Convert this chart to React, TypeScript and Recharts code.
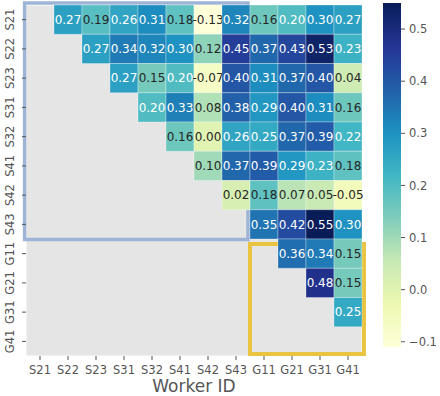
import React from 'react';
import {
  ScatterChart,
  ComposedChart,
  Scatter,
  XAxis,
  YAxis,
  CartesianGrid,
  ReferenceArea,
} from 'recharts';

// worker ids, same order on both axes
const workers = ['S21', 'S22', 'S23', 'S31', 'S32', 'S41', 'S42', 'S43', 'G11', 'G21', 'G31', 'G41'];

// upper triangle of the correlation matrix, one row per worker (null = masked)
const rowS21 = [null, 0.27, 0.19, 0.26, 0.31, 0.18, -0.13, 0.32, 0.16, 0.2, 0.3, 0.27];
const rowS22 = [null, null, 0.27, 0.34, 0.32, 0.3, 0.12, 0.45, 0.37, 0.43, 0.53, 0.23];
const rowS23 = [null, null, null, 0.27, 0.15, 0.2, -0.07, 0.4, 0.31, 0.37, 0.4, 0.04];
const rowS31 = [null, null, null, null, 0.2, 0.33, 0.08, 0.38, 0.29, 0.4, 0.31, 0.16];
const rowS32 = [null, null, null, null, null, 0.16, 0.0, 0.26, 0.25, 0.37, 0.39, 0.22];
const rowS41 = [null, null, null, null, null, null, 0.1, 0.37, 0.39, 0.29, 0.23, 0.18];
const rowS42 = [null, null, null, null, null, null, null, 0.02, 0.18, 0.07, 0.05, -0.05];
const rowS43 = [null, null, null, null, null, null, null, null, 0.35, 0.42, 0.55, 0.3];
const rowG11 = [null, null, null, null, null, null, null, null, null, 0.36, 0.34, 0.15];
const rowG21 = [null, null, null, null, null, null, null, null, null, null, 0.48, 0.15];
const rowG31 = [null, null, null, null, null, null, null, null, null, null, null, 0.25];
const rowG41 = [null, null, null, null, null, null, null, null, null, null, null, null];

const colorbarTicks = [-0.1, 0.0, 0.1, 0.2, 0.3, 0.4, 0.5];

const matrix = [rowS21, rowS22, rowS23, rowS31, rowS32, rowS41, rowS42, rowS43, rowG11, rowG21, rowG31, rowG41];

const VMIN = -0.11;
const VMAX = 0.55;

// matplotlib YlGnBu
const YLGNBU = ['#ffffd9', '#edf8b1', '#c7e9b4', '#7fcdbb', '#41b6c4', '#1d91c0', '#225ea8', '#253494', '#081d58'];

function hexToRgb(h: string) {
  const n = parseInt(h.slice(1), 16);
  return [(n >> 16) & 255, (n >> 8) & 255, n & 255];
}

function cmap(v: number) {
  let t = (v - VMIN) / (VMAX - VMIN);
  t = Math.max(0, Math.min(1, t));
  const pos = t * (YLGNBU.length - 1);
  const i = Math.min(Math.floor(pos), YLGNBU.length - 2);
  const f = pos - i;
  const a = hexToRgb(YLGNBU[i]);
  const b = hexToRgb(YLGNBU[i + 1]);
  const c = a.map((x, k) => Math.round(x + (b[k] - x) * f));
  return `rgb(${c[0]},${c[1]},${c[2]})`;
}

const cells = matrix.flatMap((row, r) =>
  row
    .map((v, c) => ({ col: c, row: r, v }))
    .filter((d) => d.v !== null)
);

const idx = workers.map((_, i) => i);
const edges = [...idx.map((i) => i - 0.5), workers.length - 0.5];

// colorbar: two points spanning the value range
const cbarData = [
  { x: 0, y: VMIN },
  { x: 1, y: VMAX },
];

const W = 370;
const H = 396;
const M = { top: 5, right: 8, bottom: 0, left: 0 };
const Y_W = 26;
const X_H = 40;
const cellW = (W - M.left - M.right - Y_W) / workers.length;
const cellH = (H - M.top - M.bottom - X_H) / workers.length;

const FONT = '"DejaVu Sans", sans-serif';
const GREY = '#555555';

function CellShape(props: any) {
  const { cx, cy, payload } = props;
  const v = payload.v as number;
  return (
    <g>
      <rect
        x={cx - cellW / 2}
        y={cy - cellH / 2}
        width={cellW}
        height={cellH}
        fill={cmap(v)}
        stroke="rgba(255,255,255,0.3)"
        strokeWidth={1}
      />
      <text
        x={cx}
        y={cy}
        dy="0.36em"
        textAnchor="middle"
        fontSize={12}
        fontFamily={FONT}
        fill={v >= 0.195 ? '#ffffff' : '#262626'}
      >
        {v.toFixed(2)}
      </text>
    </g>
  );
}

function YTick(props: any) {
  const { x, y, payload } = props;
  const bx = x - 6;
  return (
    <text
      x={bx}
      y={y}
      transform={`rotate(-90, ${bx}, ${y})`}
      textAnchor="middle"
      fontSize={11.5}
      fontFamily={FONT}
      fill={GREY}
    >
      {workers[payload.value]}
    </text>
  );
}

export default function App() {
  return (
    <div style={{ position: 'absolute', left: 0, top: 0, width: 440, height: 396, background: '#fff' }}>
      <svg width={0} height={0} style={{ position: 'absolute' }}>
        <defs>
          <linearGradient id="ylgnbu" x1="0" y1="1" x2="0" y2="0">
            {YLGNBU.map((c, i) => (
              <stop key={c} offset={`${(i / (YLGNBU.length - 1)) * 100}%`} stopColor={c} />
            ))}
          </linearGradient>
        </defs>
      </svg>
      <div style={{ position: 'absolute', left: 0, top: 0 }}>
        <ScatterChart width={W} height={H} margin={M}>
          <CartesianGrid xAxisId="edge" yAxisId="edge" fill="#e5e5e5" stroke="#ffffff" strokeWidth={1} />
          <XAxis xAxisId="edge" type="number" dataKey="col" domain={[-0.5, 11.5]} ticks={edges} hide />
          <YAxis yAxisId="edge" type="number" dataKey="row" domain={[-0.5, 11.5]} ticks={edges} reversed hide />
          <XAxis
            type="number"
            dataKey="col"
            domain={[-0.5, 11.5]}
            ticks={idx}
            interval={0}
            height={X_H}
            tickFormatter={(i: number) => workers[i]}
            tick={{ fontSize: 11.5, fontFamily: FONT, fill: GREY }}
            tickSize={4}
            tickMargin={6}
            tickLine={{ stroke: GREY }}
            axisLine={false}
            label={{ value: 'Worker ID', position: 'insideBottom', offset: 4, fontSize: 17, fontFamily: FONT, fill: GREY }}
          />
          <YAxis
            type="number"
            dataKey="row"
            domain={[-0.5, 11.5]}
            ticks={idx}
            interval={0}
            reversed
            width={Y_W}
            tick={<YTick />}
            tickSize={4}
            tickMargin={2}
            tickLine={{ stroke: GREY }}
            axisLine={false}
          />
          <Scatter data={cells} shape={<CellShape />} isAnimationActive={false} />
          <ReferenceArea
            x1={-0.55}
            x2={7.43}
            y1={-0.57}
            y2={7.52}
            fill="none"
            fillOpacity={0}
            stroke="#9db4d6"
            strokeWidth={3.5}
            ifOverflow="visible"
          />
          <ReferenceArea
            x1={7.5}
            x2={11.57}
            y1={7.67}
            y2={11.43}
            fill="none"
            fillOpacity={0}
            stroke="#e9c440"
            strokeWidth={4}
            ifOverflow="visible"
          />
        </ScatterChart>
      </div>
      <div style={{ position: 'absolute', left: 370, top: 0 }}>
        <ComposedChart
          width={70}
          height={396}
          data={cbarData}
          margin={{ top: 3, right: 0, bottom: 49, left: 13 }}
        >
          <XAxis type="number" dataKey="x" domain={[0, 1]} allowDataOverflow hide />
          <YAxis
            orientation="right"
            type="number"
            dataKey="y"
            domain={[VMIN, VMAX]}
            ticks={colorbarTicks}
            interval={0}
            width={39}
            allowDataOverflow
            tickFormatter={(v: number) => v.toFixed(1).replace('-', '\u2212')}
            tick={{ fontSize: 11.5, fontFamily: FONT, fill: GREY, textAnchor: 'start' }}
            tickSize={4}
            tickMargin={4}
            tickLine={{ stroke: GREY }}
            axisLine={false}
          />
          <ReferenceArea
            x1={0}
            x2={1}
            y1={VMIN}
            y2={VMAX}
            fill="url(#ylgnbu)"
            fillOpacity={1}
            stroke="none"
            ifOverflow="visible"
          />
        </ComposedChart>
      </div>
    </div>
  );
}
